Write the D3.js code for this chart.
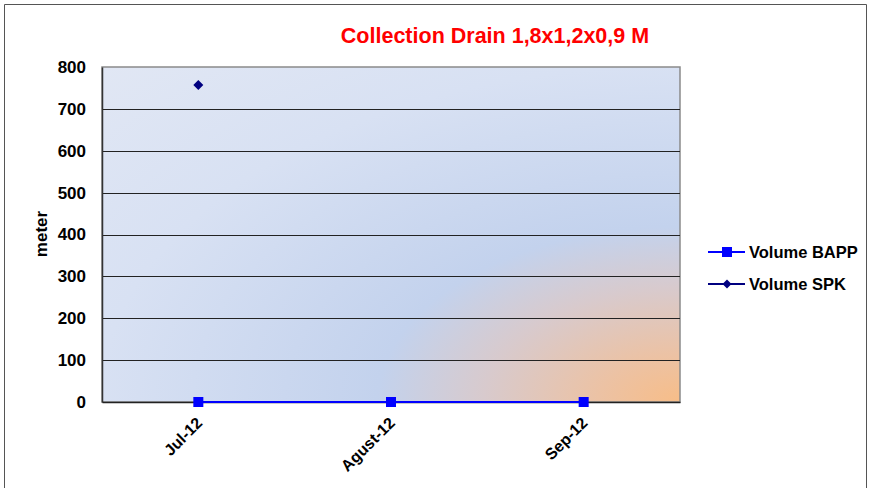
<!DOCTYPE html>
<html><head><meta charset="utf-8">
<script src="https://cdn.jsdelivr.net/npm/d3@7"></script>
<style>body{margin:0;background:#fff}svg{display:block;font-family:Arial,"Liberation Sans",sans-serif}</style>
</head><body>
<svg id="c" width="870" height="488"></svg>
<script>
const categories = ["Jul-12", "Agust-12", "Sep-12"];
const volumeBAPP = [0, 0, 0];
const volumeSPK = [757, null, null];
const yTicks = [0, 100, 200, 300, 400, 500, 600, 700, 800];
const seriesNames = ["Volume BAPP", "Volume SPK"];

const svg = d3.select("#c");
const W = 870, H = 488;
const m = {l: 102, t: 67, r: 680, b: 402};
const FONT = "Arial, 'Liberation Sans', sans-serif";

// outer frame
svg.append("path").attr("d", `M4.5,${H} V4.5 H866.5 V${H}`).attr("fill", "none").attr("stroke", "#555").attr("stroke-width", 1);

const defs = svg.append("defs");
const g = defs.append("radialGradient").attr("id", "bg")
  .attr("gradientUnits", "objectBoundingBox")
  .attr("cx", 1).attr("cy", 1).attr("r", 1.414);
[[0, "#f7bd88"], [0.1, "#ecc2a4"], [0.24, "#d8cacd"], [0.37, "#c3d2ed"], [0.71, "#d8e1f3"], [1, "#e1e7f4"]]
  .forEach(([o, c]) => g.append("stop").attr("offset", o).attr("stop-color", c));

const x = d3.scaleBand().domain(categories).range([m.l, m.r]);
const y = d3.scaleLinear().domain([0, 800]).range([m.b, m.t]);

svg.append("rect").attr("x", m.l).attr("y", m.t).attr("width", m.r - m.l).attr("height", m.b - m.t)
  .attr("fill", "url(#bg)").attr("stroke", "#8a8a8a").attr("stroke-width", 1.5);

// gridlines
svg.append("g").selectAll("line").data(yTicks.filter(d => d > 0 && d < 800)).join("line")
  .attr("x1", m.l).attr("x2", m.r).attr("y1", d => Math.round(y(d)) + 0.5).attr("y2", d => Math.round(y(d)) + 0.5)
  .attr("stroke", "#222").attr("stroke-width", 1.2);

// axes
const ya = svg.append("g").attr("transform", `translate(${m.l},0)`)
  .call(d3.axisLeft(y).tickValues(yTicks).tickSize(0).tickPadding(16));
ya.select(".domain").attr("stroke", "#333").attr("stroke-width", 1.5);
ya.selectAll("text").attr("font-size", 17).attr("font-weight", "bold").attr("fill", "#000")
  .attr("font-family", FONT);

const xa = svg.append("g").attr("transform", `translate(0,${m.b})`)
  .call(d3.axisBottom(x).tickSize(0).tickPadding(0));
xa.select(".domain").attr("stroke", "#222").attr("stroke-width", 1.5);
xa.selectAll("text").attr("font-size", 16).attr("font-weight", "bold").attr("fill", "#000")
  .attr("font-family", FONT)
  .attr("text-anchor", "end").attr("dy", null).attr("y", 0)
  .attr("transform", "translate(5,22) rotate(-45)");

// y axis title
svg.append("text").attr("transform", `translate(47,234) rotate(-90)`).attr("text-anchor", "middle")
  .attr("font-size", 17).attr("font-weight", "bold").text("meter");

// title
svg.append("text").attr("x", 495).attr("y", 43).attr("text-anchor", "middle")
  .attr("font-size", 21.5).attr("font-weight", "bold").attr("fill", "#ff0000").text("Collection Drain 1,8x1,2x0,9 M");

const cx = d => x(d) + x.bandwidth() / 2;

// BAPP series
const bapp = categories.map((c, i) => ({c, v: volumeBAPP[i]}));
svg.append("path").datum(bapp.filter(d => d.v != null))
  .attr("d", d3.line().x(d => cx(d.c)).y(d => y(d.v)))
  .attr("fill", "none").attr("stroke", "#0000ff").attr("stroke-width", 2);
svg.append("g").selectAll("rect").data(bapp.filter(d => d.v != null)).join("rect")
  .attr("x", d => cx(d.c) - 5).attr("y", d => y(d.v) - 5).attr("width", 10).attr("height", 10).attr("fill", "#0000ff");

// SPK series
const spk = categories.map((c, i) => ({c, v: volumeSPK[i]}));
svg.append("path").datum(spk)
  .attr("d", d3.line().defined(d => d.v != null).x(d => cx(d.c)).y(d => y(d.v)))
  .attr("fill", "none").attr("stroke", "#000080").attr("stroke-width", 2);
svg.append("g").selectAll("path").data(spk.filter(d => d.v != null)).join("path")
  .attr("transform", d => `translate(${cx(d.c)},${y(d.v)})`)
  .attr("d", "M0,-5 L5,0 L0,5 L-5,0 Z").attr("fill", "#000080");

// legend
const lg = svg.append("g");
const ly = [252, 284];
ly.forEach((yy, i) => {
  lg.append("line").attr("x1", 708).attr("x2", 745).attr("y1", yy).attr("y2", yy)
    .attr("stroke", i === 0 ? "#0000ff" : "#000080").attr("stroke-width", 2);
  if (i === 0) lg.append("rect").attr("x", 722).attr("y", yy - 5).attr("width", 10).attr("height", 10).attr("fill", "#0000ff");
  else lg.append("path").attr("transform", `translate(727,${yy})`).attr("d", "M0,-4.5 L4.5,0 L0,4.5 L-4.5,0 Z").attr("fill", "#000080");
  lg.append("text").attr("x", 749).attr("y", yy + 6).attr("font-size", 16.5).attr("font-weight", "bold").text(seriesNames[i]);
});
</script>
</body></html>
